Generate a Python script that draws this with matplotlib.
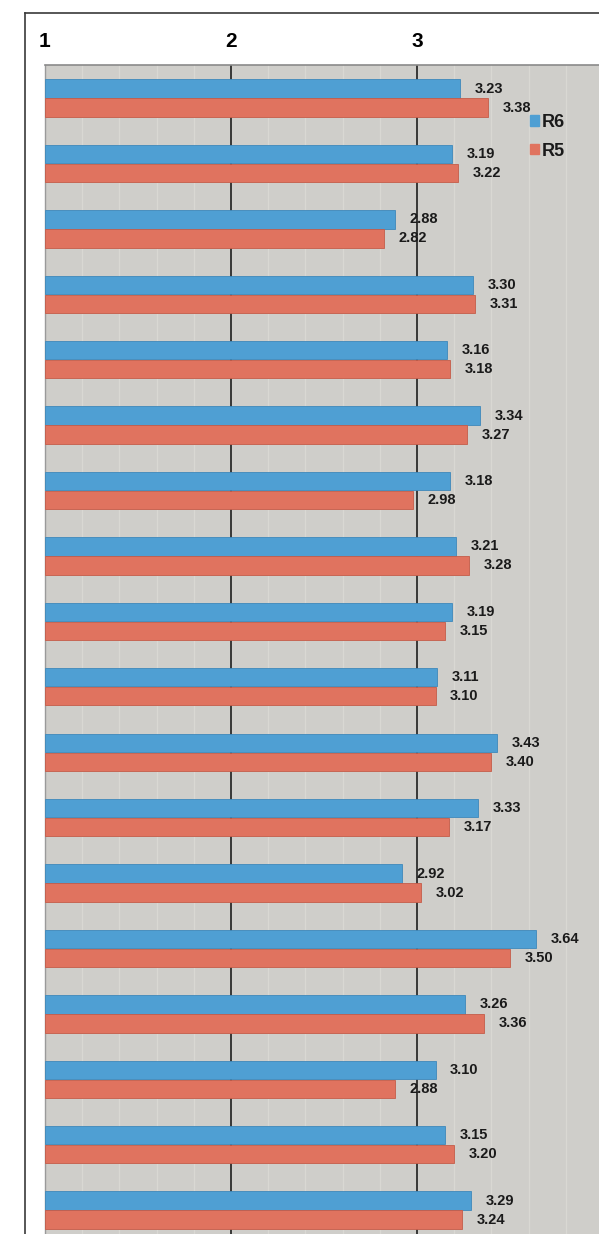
import numpy as np
import matplotlib
matplotlib.use('Agg')
import matplotlib.pyplot as plt
from matplotlib.patches import Patch
from matplotlib.lines import Line2D
from matplotlib.ticker import MultipleLocator

plt.rcParams['font.family'] = ['Liberation Sans', 'DejaVu Sans']

# values, top to bottom
r6 = [3.23, 3.19, 2.88, 3.30, 3.16, 3.34, 3.18, 3.21, 3.19,
      3.11, 3.43, 3.33, 2.92, 3.64, 3.26, 3.10, 3.15, 3.29]
r5 = [3.38, 3.22, 2.82, 3.31, 3.18, 3.27, 2.98, 3.28, 3.15,
      3.10, 3.40, 3.17, 3.02, 3.50, 3.36, 2.88, 3.20, 3.24]
series_names = ['R6', 'R5']
x_ticks = [1, 2, 3]

BLUE, BLUE_EDGE = '#4f9fd3', '#3f88ba'
RED, RED_EDGE = '#e0735f', '#c45c49'
BG = '#cfcecA'

W, H = 599, 1234
fig = plt.figure(figsize=(W / 100, H / 100), dpi=100)
fig.patch.set_facecolor('white')

# axes placed in pixel terms; bottom/right run a bit past the figure edge
left, top, right, bottom = 45, 65, 603, 1242.5
ax = fig.add_axes([left / W, 1 - bottom / H, (right - left) / W, (bottom - top) / H])
ax.set_facecolor(BG)

y = np.arange(len(r6))
h = 0.28
ax.barh(y - 0.14, np.array(r6) - 1, left=1, height=h, color=BLUE,
        edgecolor=BLUE_EDGE, linewidth=0.6, zorder=3)
ax.barh(y + 0.15, np.array(r5) - 1, left=1, height=h, color=RED,
        edgecolor=RED_EDGE, linewidth=0.6, zorder=3)

for yi, a, b in zip(y, r6, r5):
    ax.annotate(f'{a:.2f}', (a, yi - 0.14), xytext=(10.5, 0), textcoords='offset points',
                va='center', ha='left', fontsize=10.5, fontweight='bold', color='#1a1a1a', zorder=4)
    ax.annotate(f'{b:.2f}', (b, yi + 0.15), xytext=(10.5, 0), textcoords='offset points',
                va='center', ha='left', fontsize=10.5, fontweight='bold', color='#1a1a1a', zorder=4)

ax.set_xlim(1, 4)
ax.set_ylim(len(r6) - 0.5, -0.5)
ax.set_yticks([])
ax.xaxis.tick_top()
ax.set_xticks(x_ticks)
ax.set_xticklabels([str(t) for t in x_ticks], fontsize=15, fontweight='bold')
ax.tick_params(axis='x', length=0, pad=10)
ax.xaxis.set_minor_locator(MultipleLocator(0.2))
ax.tick_params(axis='x', which='minor', length=0)
for gx in [2, 3, 4]:
    ax.axvline(gx, color='#1e1e1e', linewidth=1.2, zorder=1)
ax.grid(True, which='minor', axis='x', color='#d9d8d3', linewidth=0.9, zorder=0.5)
ax.set_axisbelow(True)

for s in ['right', 'bottom']:
    ax.spines[s].set_visible(False)
ax.spines['top'].set_color('#8a8a8a')
ax.spines['top'].set_linewidth(1.2)
ax.spines['left'].set_color('#9a9a9a')
ax.spines['left'].set_linewidth(1.0)

# legend
handles = [Patch(facecolor=BLUE, edgecolor=BLUE), Patch(facecolor=RED, edgecolor=RED)]
fig.legend(handles, series_names, loc='upper left', bbox_to_anchor=(530 / W, 1 - 114 / H),
           frameon=False, prop={'size': 13, 'weight': 'bold'}, handlelength=0.5,
           handleheight=0.5, handletextpad=0.15, labelspacing=0.65, borderpad=0,
           borderaxespad=0, labelcolor='#1a1a1a')

# outer frame of the chart
fig.add_artist(Line2D([25 / W, 1], [1 - 13 / H, 1 - 13 / H], color='#3a3a3a', linewidth=1.2))
fig.add_artist(Line2D([25 / W, 25 / W], [0, 1 - 13 / H], color='#3a3a3a', linewidth=1.2))

fig.savefig('out.png', dpi=100)
